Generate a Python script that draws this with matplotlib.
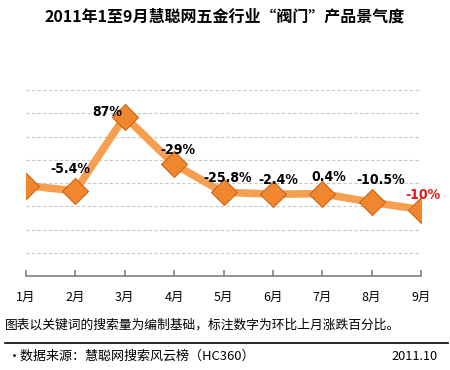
import matplotlib
matplotlib.use("Agg")
import matplotlib.pyplot as plt
from matplotlib import font_manager

months = ["1月", "2月", "3月", "4月", "5月", "6月", "7月", "8月", "9月"]
index_values = [3.89, 3.66, 6.86, 4.80, 3.60, 3.52, 3.54, 3.17, 2.86]
labels = ["", "-5.4%", "87%", "-29%", "-25.8%", "-2.4%", "0.4%", "-10.5%", "-10%"]
label_colors = ["black"] * 8 + ["#E8141C"]
# label offsets in pixels (dx, dy up)
label_offsets = [(0, 0), (-5, 22), (-18, 5), (4, 14), (4, 14), (5, 14), (7, 17), (9, 22), (2, 15)]

title = "2011年1至9月慧聪网五金行业“阀门”产品景气度"
note = "图表以关键词的搜索量为编制基础，标注数字为环比上月涨跌百分比。"
source = "・数据来源：慧聪网搜索风云榜（HC360）"
date = "2011.10"

plt.rcParams['font.family'] = ['Noto Sans CJK SC', 'DejaVu Sans']

names = {f.name for f in font_manager.fontManager.ttflist}
if "Liberation Sans Narrow" in names:
    lab_family = ["Liberation Sans Narrow"]
    lab_stretch = "normal"
else:
    lab_family = ["DejaVu Sans"]
    lab_stretch = "condensed"

fig = plt.figure(figsize=(4.5, 3.7), dpi=100)
ax = fig.add_axes([26/450, 1-276/370, (421-26)/450, (276-90)/370])

x = list(range(len(months)))
ax.plot(x, index_values, color="#F5A050", lw=5.5, solid_joinstyle="miter", zorder=3)
ax.plot(x, index_values, ls="none", marker="D", ms=13, mfc="#F0862E",
        mec="#C8651A", mew=0.8, zorder=4)

for i, (lab, c, (dx, dy)) in enumerate(zip(labels, label_colors, label_offsets)):
    if lab:
        ax.annotate(lab, (x[i], index_values[i]), xytext=(dx*0.72, dy*0.72),
                    textcoords="offset points", ha="center", va="center",
                    fontsize=10, fontweight="bold", color=c, fontstretch=lab_stretch,
                    family=lab_family, zorder=5)

ax.set_xlim(0, len(months) - 1)
ax.set_ylim(0, 8)
for yv in range(1, 9):
    ax.axhline(yv, color="#C8C8C8", lw=0.8, ls=(0, (3, 2)), zorder=1)

for s in ["top", "right", "left"]:
    ax.spines[s].set_visible(False)
ax.spines["bottom"].set_color("#808080")
ax.spines["bottom"].set_linewidth(1.2)
ax.set_yticks([])
ax.set_xticks(x)
ax.set_xticklabels(months, fontsize=9)
ax.tick_params(axis="x", direction="in", length=4, color="#808080", width=1.2, pad=11)

fig.text(0.5, 1-17/370, title, ha="center", va="center", fontsize=11.5, fontweight="bold")
fig.text(5/450, 1-325/370, note, ha="left", va="center", fontsize=9.2)
fig.add_artist(plt.Line2D([5/450, 448/450], [1-343/370, 1-343/370], color="black", lw=1.2,
                          transform=fig.transFigure))
fig.text(8/450, 1-356/370, source, ha="left", va="center", fontsize=9.4)
fig.text(438/450, 1-356/370, date, ha="right", va="center", fontsize=9.2)

fig.savefig("out.png", dpi=100)
